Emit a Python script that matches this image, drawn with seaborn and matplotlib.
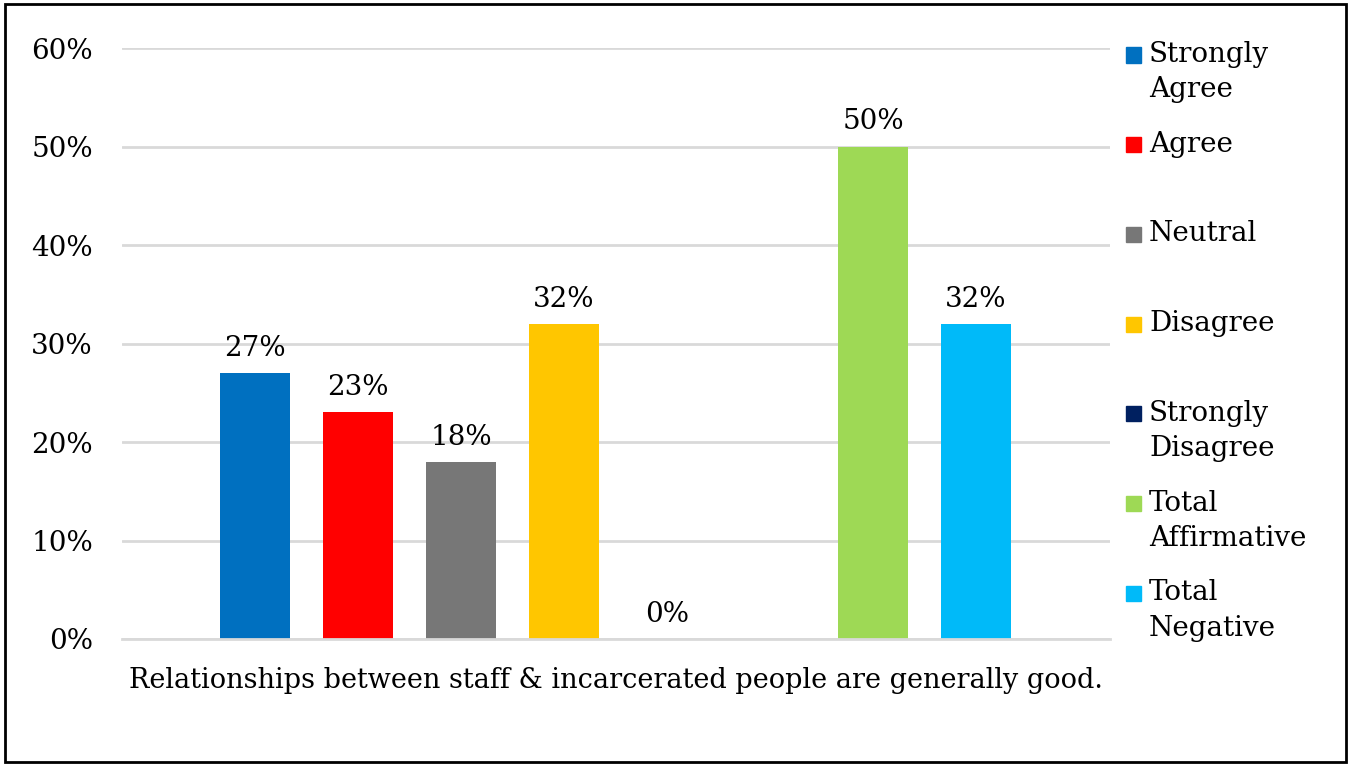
import numpy as np
import pandas as pd
import matplotlib
matplotlib.use("Agg")
import matplotlib.pyplot as plt
from matplotlib.patches import Rectangle
import seaborn as sns

# survey data
responses = ['Strongly Agree', 'Agree', 'Neutral', 'Disagree', 'Strongly Disagree',
             'Total Affirmative', 'Total Negative']
legend_text = ['Strongly\nAgree', 'Agree', 'Neutral', 'Disagree', 'Strongly\nDisagree',
               'Total\nAffirmative', 'Total\nNegative']
shares = [0.27, 0.23, 0.18, 0.32, 0.0, 0.50, 0.32]
colors = ['#0070C0', '#FF0000', '#777777', '#FFC600', '#002060', '#9ED955', '#00BAF9']
question = 'Relationships between staff & incarcerated people are generally good.'

df = pd.DataFrame({'response': responses, 'share': shares})
# blank slot between the individual answers and the totals
order = responses[:5] + [' '] + responses[5:]

sns.set_style("white")
plt.rcParams['font.family'] = ['DejaVu Serif']
plt.rcParams['text.color'] = 'black'
plt.rcParams['axes.labelcolor'] = 'black'
plt.rcParams['ytick.color'] = 'black'

fig = plt.figure(figsize=(13.51, 7.66), dpi=100)
ax = fig.add_axes([0.0903, 0.1658, 0.7313, 0.7715])

sns.barplot(data=df, x='response', y='share', hue='response', order=order,
            hue_order=responses, palette=dict(zip(responses, colors)),
            dodge=False, width=0.68, legend=False, saturation=1, linewidth=0, ax=ax)

for c in ax.containers:
    ax.bar_label(c, labels=[f'{v*100:.0f}%' for v in c.datavalues if not np.isnan(v)],
                 padding=8, fontsize=20, color='black')

ax.set_ylim(0, 0.6)
ax.set_xlim(-1.29, 8.30)
ax.set_yticks(np.arange(0, 0.61, 0.1))
ax.set_yticklabels([f'{int(round(t*100))}%' for t in np.arange(0, 0.61, 0.1)])
ax.tick_params(axis='y', length=0, pad=21, labelsize=20, labelcolor='black')
ax.set_xticks([])
ax.yaxis.grid(True, color='#d9d9d9', linewidth=2)
ax.set_axisbelow(True)
for s in ['top', 'right', 'left']:
    ax.spines[s].set_visible(False)
ax.spines['bottom'].set_color('#d9d9d9')
ax.spines['bottom'].set_linewidth(2)
ax.set_ylabel('')
ax.set_xlabel(question, fontsize=19.5, labelpad=20, color='black')

# legend on the right, evenly spaced slots
for i, (lab, col) in enumerate(zip(legend_text, colors)):
    yc = 1 - (55 + i * 89.7) / 766
    fig.patches.append(Rectangle((1126 / 1351, yc - 7.5 / 766), 15 / 1351, 15 / 766,
                                 transform=fig.transFigure, color=col))
    fig.text(1149 / 1351, yc + 14 / 766, lab, ha='left', va='top', fontsize=20,
             linespacing=1.4, color='black')

# outer border
fig.patches.append(Rectangle((0.004, 0.005), 0.992, 0.99, transform=fig.transFigure,
                             fill=False, edgecolor='black', linewidth=2))

plt.savefig('out.png', dpi=100)
